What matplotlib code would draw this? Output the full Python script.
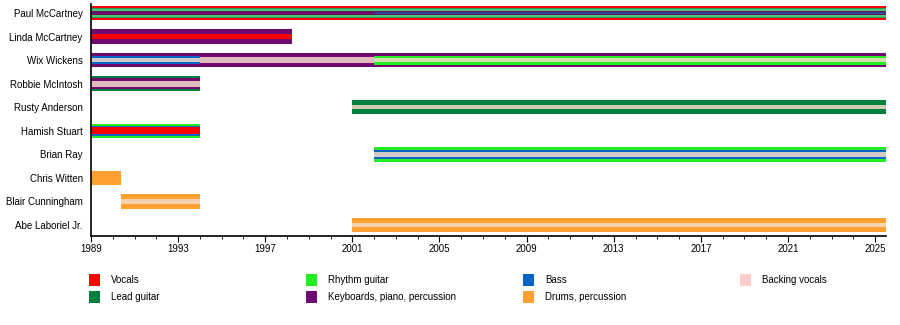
import matplotlib
matplotlib.use("Agg")
import matplotlib.pyplot as plt
from matplotlib.patches import Rectangle

plt.rcParams['font.family'] = ['Liberation Sans', 'DejaVu Sans']

# ---------------- data ----------------
members = ["Paul McCartney", "Linda McCartney", "Wix Wickens", "Robbie McIntosh",
           "Rusty Anderson", "Hamish Stuart", "Brian Ray", "Chris Witten",
           "Blair Cunningham", "Abe Laboriel Jr."]

roles = ["Vocals", "Lead guitar", "Rhythm guitar", "Keyboards, piano, percussion",
         "Bass", "Drums, percussion", "Backing vocals"]

END = 2025.5

# (member, role, start, end)
seg_member = ["Paul McCartney", "Paul McCartney", "Paul McCartney", "Paul McCartney", "Paul McCartney",
              "Linda McCartney", "Linda McCartney",
              "Wix Wickens", "Wix Wickens", "Wix Wickens", "Wix Wickens", "Wix Wickens", "Wix Wickens",
              "Robbie McIntosh", "Robbie McIntosh", "Robbie McIntosh",
              "Rusty Anderson", "Rusty Anderson",
              "Hamish Stuart", "Hamish Stuart", "Hamish Stuart",
              "Brian Ray", "Brian Ray", "Brian Ray",
              "Chris Witten",
              "Blair Cunningham", "Blair Cunningham",
              "Abe Laboriel Jr.", "Abe Laboriel Jr."]
seg_role = ["Vocals", "Lead guitar", "Rhythm guitar", "Keyboards, piano, percussion", "Bass",
            "Keyboards, piano, percussion", "Vocals",
            "Keyboards, piano, percussion", "Bass", "Backing vocals", "Backing vocals", "Rhythm guitar", "Backing vocals",
            "Lead guitar", "Keyboards, piano, percussion", "Backing vocals",
            "Lead guitar", "Backing vocals",
            "Rhythm guitar", "Bass", "Vocals",
            "Rhythm guitar", "Bass", "Backing vocals",
            "Drums, percussion",
            "Drums, percussion", "Backing vocals",
            "Drums, percussion", "Backing vocals"]
seg_start = [1989, 1989, 1989, 1989, 2002,
             1989, 1989,
             1989, 1989, 1989, 1994, 2002, 2002,
             1989, 1989, 1989,
             2001, 2001,
             1989, 1989, 1989,
             2002, 2002, 2002,
             1989,
             1990.4, 1990.4,
             2001, 2001]
seg_end = [END, END, END, END, END,
           1998.25, 1998.25,
           END, 1994, 1994, 2002, END, END,
           1994, 1994, 1994,
           END, END,
           1994, 1994, 1994,
           END, END, END,
           1990.4,
           1994, 1994,
           END, END]

# ---------------- style ----------------
# fraction of bar height for each segment (nesting)
seg_frac = [1.0, 0.74, 0.6, 0.34, 0.12,
            1.0, 0.36,
            1.0, 0.56, 0.3, 0.45, 0.62, 0.3,
            1.0, 0.72, 0.42,
            1.0, 0.3,
            1.0, 0.7, 0.5,
            1.0, 0.62, 0.36,
            1.0,
            1.0, 0.3,
            1.0, 0.3]

colors = {
    "Vocals": "#ff0000",
    "Lead guitar": "#007f3f",
    "Rhythm guitar": "#22ee22",
    "Keyboards, piano, percussion": "#700a70",
    "Bass": "#0a64c8",
    "Drums, percussion": "#ffa030",
    "Backing vocals": "#ffcccc",
}
bar_colors = dict(colors)
bar_alpha = {r: 1.0 for r in roles}
bar_colors["Backing vocals"] = "#f4dcc8"
bar_alpha["Backing vocals"] = 0.85
# Paul's guitars blend
paul_override = {"Lead guitar": ("#2e9a58", 1.0), "Rhythm guitar": ("#44c878", 1.0),
                 "Keyboards, piano, percussion": ("#6a1060", 1.0), "Bass": ("#1a50a0", 0.8)}

W, H = 900, 325
fig = plt.figure(figsize=(W / 100, H / 100), dpi=100)

x0, x1 = 91, 886
y_top, y_bot = 4, 236
ax = fig.add_axes([x0 / W, 1 - y_bot / H, (x1 - x0) / W, (y_bot - y_top) / H])

row_px = 23.55
first_px = 13
ax.set_ylim((y_bot - first_px) / row_px, (y_top - first_px) / row_px)
ax.set_xlim(1989, END)
bar_h = 14.5 / row_px

for m, r, s, e, f in zip(seg_member, seg_role, seg_start, seg_end, seg_frac):
    i = members.index(m)
    c, a = bar_colors[r], bar_alpha[r]
    if m == "Paul McCartney" and r in paul_override:
        c, a = paul_override[r]
    h = bar_h * f
    ax.barh(i, e - s, left=s, height=h, color=c, alpha=a, linewidth=0)

ax.set_yticks(range(len(members)))
ax.set_yticklabels(members, fontsize=7.0)
ax.tick_params(axis='y', length=0, pad=6)

major = list(range(1989, 2026, 4))
ax.set_xticks(major)
ax.set_xticklabels([str(y) for y in major], fontsize=7.0)
ax.set_xticks(list(range(1989, 2026)), minor=True)
ax.tick_params(axis='x', which='major', direction='out', length=4, width=0.8, pad=2)
ax.tick_params(axis='x', which='minor', direction='out', length=2, width=0.6)
for sp in ["top", "right"]:
    ax.spines[sp].set_visible(False)
ax.spines["left"].set_linewidth(1.2)
ax.spines["bottom"].set_linewidth(1.2)

# legend (figure-pixel coordinates)
lax = fig.add_axes([0, 0, 1, 1])
lax.set_xlim(0, W)
lax.set_ylim(H, 0)
lax.axis("off")
leg_order = ["Vocals", "Lead guitar", "Rhythm guitar", "Keyboards, piano, percussion",
             "Bass", "Drums, percussion", "Backing vocals"]
col_x = [89, 306, 523, 740]
row_y = [280, 297]
for k, r in enumerate(leg_order):
    cx = col_x[k // 2]
    cy = row_y[k % 2]
    lax.add_patch(Rectangle((cx, cy - 6), 11, 12, facecolor=colors[r], edgecolor="none"))
    lax.text(cx + 22, cy, r, fontsize=7.0, va="center", ha="left")

fig.savefig("out.png", dpi=100)
